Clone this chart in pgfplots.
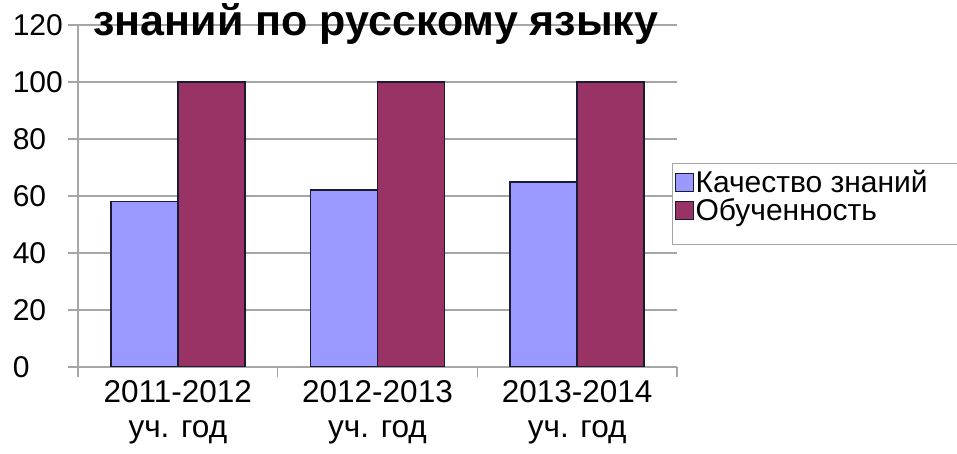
\documentclass[border=0pt]{standalone}
\usepackage{fontspec}
\setmainfont{Liberation Sans}
\usepackage{pgfplots}
\pgfplotsset{compat=1.18}
\definecolor{kach}{HTML}{9999FF}
\definecolor{obuch}{HTML}{993366}
\definecolor{gridgray}{HTML}{A6A6A6}
\definecolor{barline}{HTML}{1A1A33}

\begin{document}
\begin{tikzpicture}[x=1pt,y=1pt]
\useasboundingbox (0,0) rectangle (957,454);
\clip (0,0) rectangle (957,454);
\begin{axis}[
  at={(78pt,87pt)}, anchor=south west,
  scale only axis, width=599pt, height=342pt,
  ybar=0pt, bar width=67pt,
  xmin=-0.5, xmax=2.5, ymin=0, ymax=120,
  xtick={0,1,2},
  xticklabels={{2011-2012\\уч. год},{2012-2013\\уч. год},{2013-2014\\уч. год}},
  xticklabel style={align=center, font=\fontsize{31.5}{35}\selectfont},
  minor xtick={-0.5,0.5,1.5,2.5},
  major x tick style={draw=none},
  ytick={0,20,...,120},
  yticklabel={\makebox[50pt][l]{\pgfmathprintnumber{\tick}}},
  yticklabel style={font=\fontsize{30}{34}\selectfont, inner xsep=5pt},
  /pgf/number format/assume math mode=true,
  axis x line*=bottom, axis y line*=left,
  axis line style={gridgray, line width=1.2pt, -},
  tick align=outside, major tick length=10pt, minor tick length=10pt,
  tick style={gridgray, line width=1.2pt},
  ymajorgrids, major grid style={gridgray, line width=1.2pt},
  legend style={at={(0.9917,0.596)}, anchor=north west, draw=gridgray,
    line width=1pt, font=\fontsize{30}{34}\selectfont,
    inner xsep=2pt, inner ysep=5pt, row sep=0pt},
  legend cell align=left,
  legend image code/.code={\draw[#1, line width=1pt] (0pt,-9pt) rectangle (18pt,9pt);},
]
\addplot[fill=kach, draw=barline, line width=1.6pt] coordinates {(0,58) (1,62) (2,65)};
\addlegendentry{\makebox[262pt][l]{Качество знаний}}
\addplot[fill=obuch, draw=barline, line width=1.6pt] coordinates {(0,100) (1,100) (2,100)};
\addlegendentry{\makebox[262pt][l]{Обученность}}
\addlegendimage{empty legend}
\addlegendentry{\rule{0pt}{10pt}}
\end{axis}
\node[font=\bfseries\fontsize{43}{43}\selectfont, anchor=base] at (376,418) {знаний по русскому языку};
\end{tikzpicture}
\end{document}
